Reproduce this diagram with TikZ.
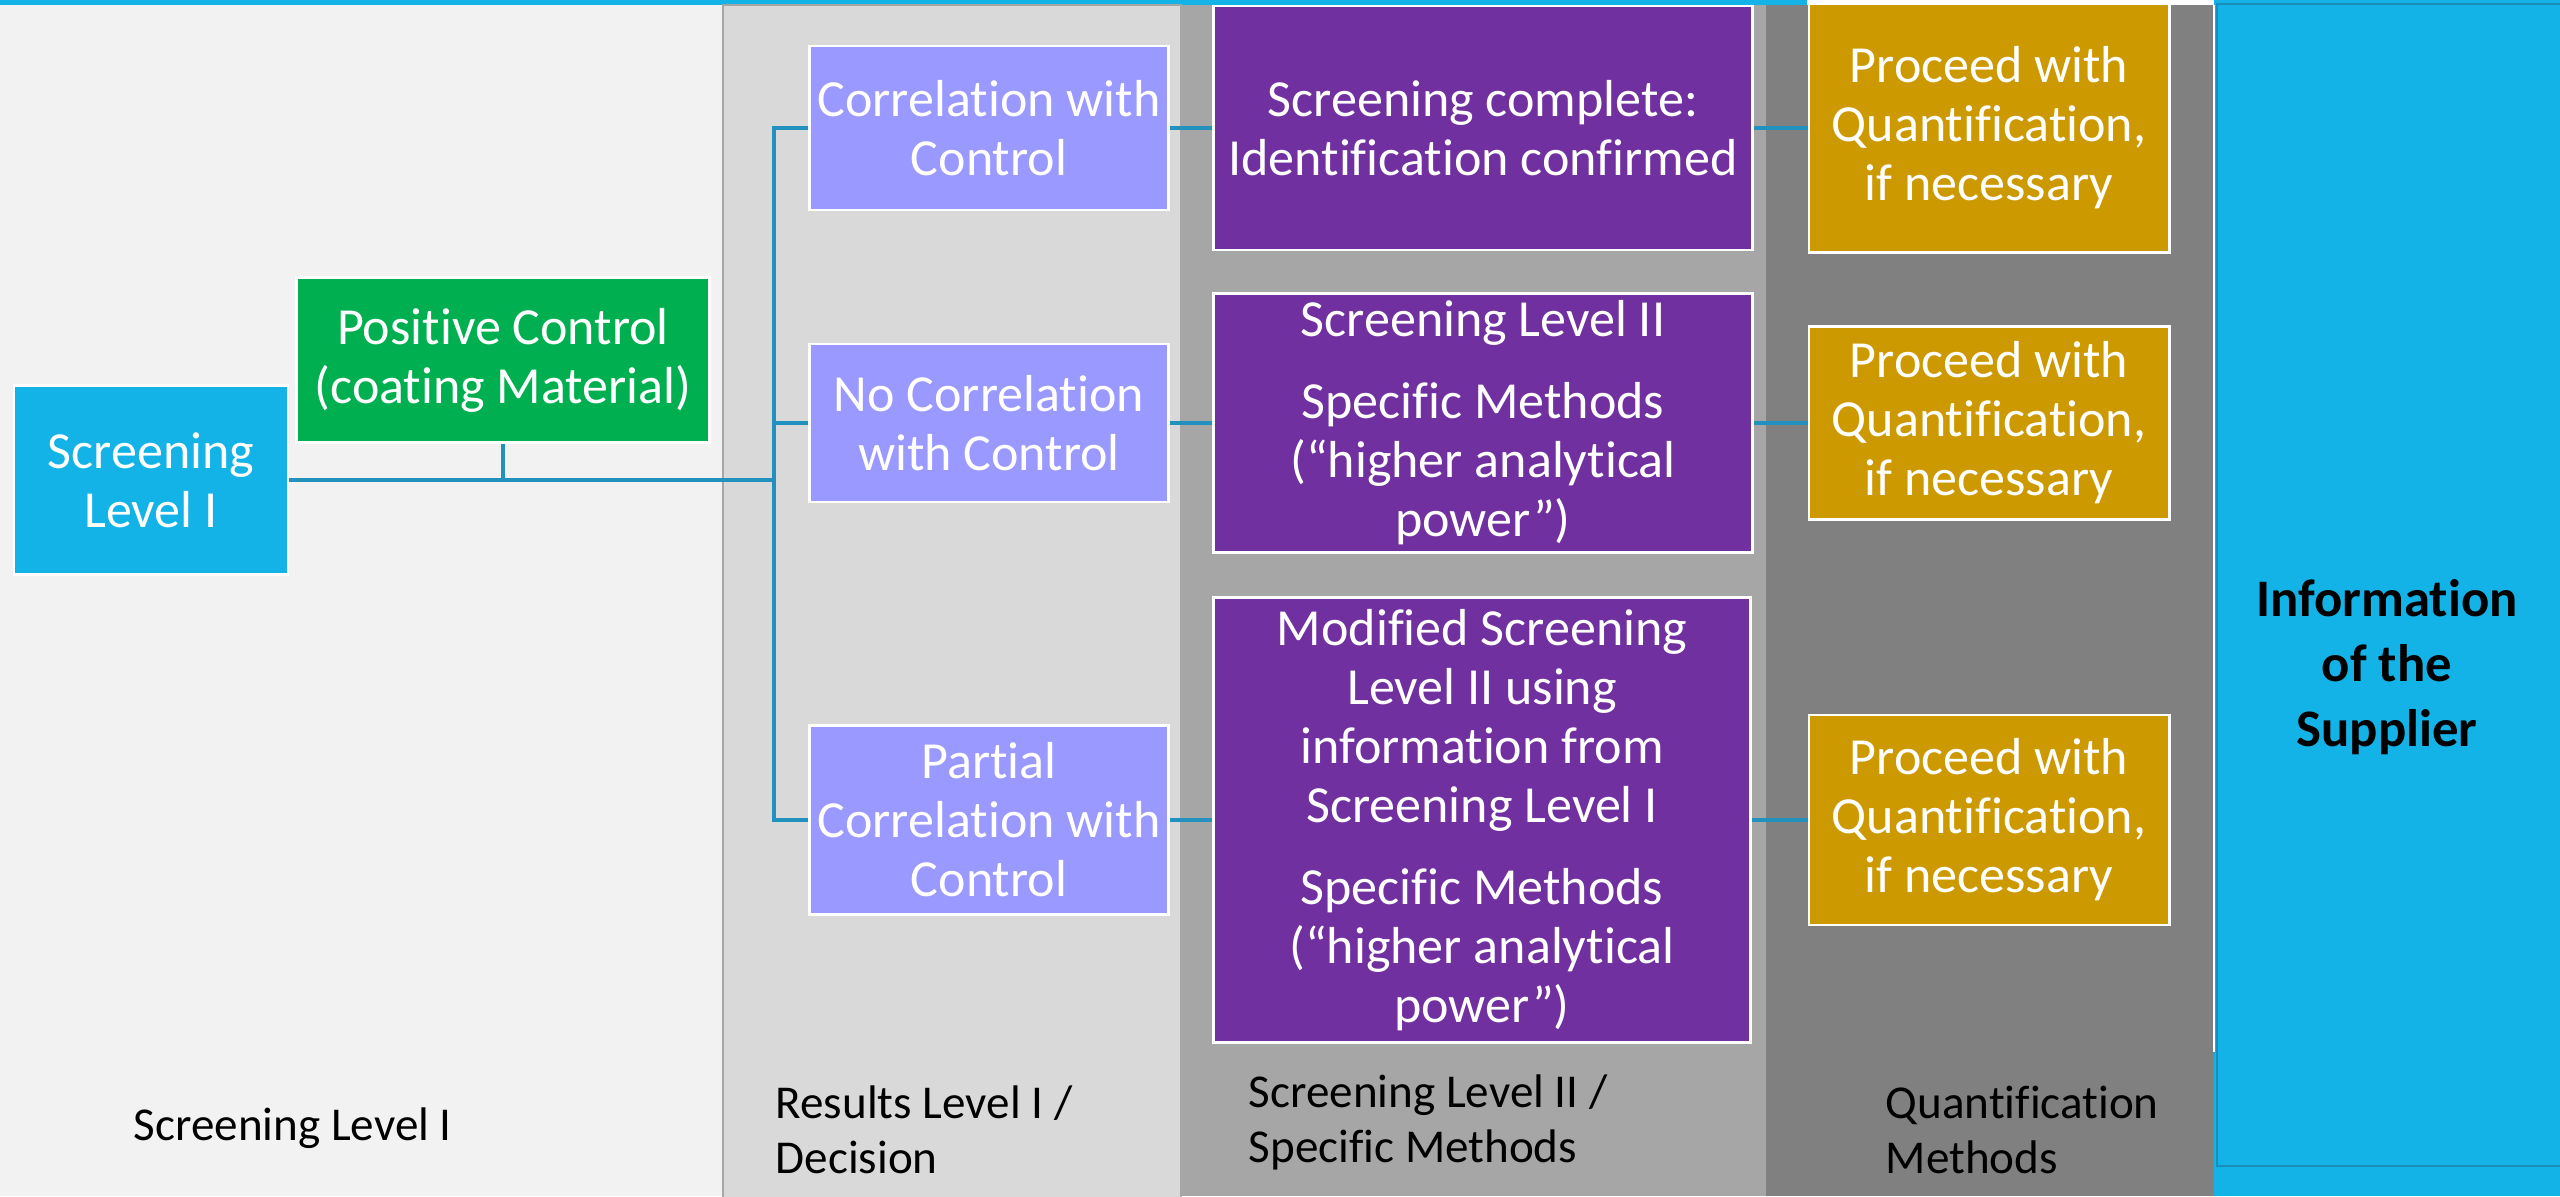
\documentclass[tikz,border=0pt]{standalone}
\usepackage{fontspec}
\setmainfont{Carlito}[Ligatures=NoCommon]
\usepackage{tikz}
\definecolor{paneone}{HTML}{F2F2F2}
\definecolor{panetwo}{HTML}{D9D9D9}
\definecolor{panethree}{HTML}{A6A6A6}
\definecolor{panefour}{HTML}{808080}
\definecolor{infoblue}{HTML}{13B2E7}
\definecolor{edgeblue}{HTML}{1A8DBA}
\definecolor{linkblue}{HTML}{2391BE}
\definecolor{ctrlgreen}{HTML}{00B050}
\definecolor{lavender}{HTML}{9999FF}
\definecolor{deeppurple}{HTML}{7030A0}
\definecolor{gold}{HTML}{CC9900}

\begin{document}
\begin{tikzpicture}[x=0.01cm, y=-0.01cm,
    stepbox/.style={draw=white, line width=0.8pt, text=white, align=center, inner sep=0pt, font=\fontsize{14.8}{16.8}\selectfont},
    lane/.style={anchor=west, align=left, inner sep=0pt, text=black, font=\fontsize{13.4}{15.6}\selectfont},
    link/.style={draw=linkblue, line width=0.9pt}]
        \useasboundingbox (0,0) rectangle (2560,1196);
        \fill [infoblue] (0,0) rectangle (1807,5);
        \fill [paneone] (0,5) rectangle (723,1196);
        \filldraw [fill=panetwo, draw=panethree, line width=0.6pt] (723,5) rectangle (1181,1200);
        \fill [panethree] (1181,5) rectangle (1766,1196);
        \fill [panefour] (1766,5) rectangle (2214,1196);
        \fill [infoblue] (2214,0) rectangle (2560,1196);
        \draw [edgeblue, line width=0.7pt] (2217,4) rectangle (2570,1166);
        \draw [white, line width=0.8pt] (2214,5) -- (2214,1052);

        \node [stepbox, fill=infoblue, minimum width=2.74cm, minimum height=1.89cm] (scr1) at (151,480) {Screening\\Level I};
        \node [stepbox, fill=ctrlgreen, minimum width=4.13cm, minimum height=1.65cm] (posctl) at (503,360) {Positive Control\\(coating Material)};
        \node [stepbox, fill=lavender, minimum width=3.59cm, minimum height=1.64cm] (corr) at (989,128) {Correlation with\\Control};
        \node [stepbox, fill=lavender, minimum width=3.59cm, minimum height=1.58cm] (nocorr) at (989,423) {No Correlation\\with Control};
        \node [stepbox, fill=lavender, minimum width=3.59cm, minimum height=1.89cm] (partcorr) at (989,820) {Partial\\Correlation with\\Control};
        \node [stepbox, fill=deeppurple, minimum width=5.38cm, minimum height=2.44cm] (done) at (1483,128) {Screening complete:\\Identification confirmed};
        \node [stepbox, fill=deeppurple, minimum width=5.38cm, minimum height=2.59cm] (lvl2) at (1483,423) {Screening Level II\\[6.5pt]Specific Methods\\(“higher analytical\\power”)};
        \node [stepbox, fill=deeppurple, minimum width=5.36cm, minimum height=4.45cm] (modlvl2) at (1482,820) {Modified Screening\\Level II using\\information from\\Screening Level I\\[6.5pt]Specific Methods\\(“higher analytical\\power”)};
        \node [stepbox, fill=gold, minimum width=3.60cm, minimum height=2.49cm] (quant1) at (1989,128) {Proceed with\\Quantification,\\if necessary};
        \node [stepbox, fill=gold, minimum width=3.60cm, minimum height=1.93cm] (quant2) at (1989,423) {Proceed with\\Quantification,\\if necessary};
        \node [stepbox, fill=gold, minimum width=3.60cm, minimum height=2.10cm] (quant3) at (1989,820) {Proceed with\\Quantification,\\if necessary};

        \coordinate (split) at (774,480);
        \draw [link] (scr1) -- (split);
        \draw [link] (posctl) -- (posctl |- split);
        \draw [link] (corr) -| (split) |- (partcorr);
        \draw [link] (nocorr) -- (nocorr -| split);
        \draw [link] (corr) -- (done);
        \draw [link] (nocorr) -- (lvl2);
        \draw [link] (partcorr) -- (modlvl2);
        \draw [link] (done) -- (quant1);
        \draw [link] (lvl2) -- (quant2);
        \draw [link] (modlvl2) -- (quant3);

        \node [lane] (lanescr) at (133,1128) {Screening Level I};
        \node [lane] (laneres) at (775,1130) {Results Level I /\\Decision};
        \node [lane] (lanespec) at (1248,1122) {Screening Level II /\\Specific Methods};
        \node [lane] (lanequant) at (1885,1130) {Quantification\\Methods};
        \node [align=center, inner sep=0pt, text=black, font=\fontsize{15}{18.5}\selectfont\bfseries] (supplier) at (2387,667) {Information\\of the\\Supplier};
    \end{tikzpicture}
\end{document}
